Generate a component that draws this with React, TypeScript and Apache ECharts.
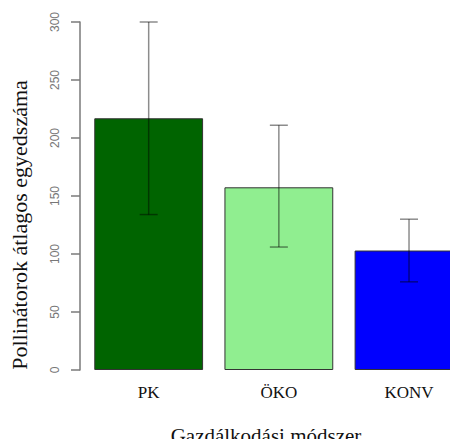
import React, { useEffect, useRef } from "react";
import * as echarts from "echarts";

const categories = ["PK", "ÖKO", "KONV"];
const means = [217, 157.5, 103];
const lowerErr = [134, 106, 76];
const upperErr = [300, 211, 130];
const barColors = ["#006400", "#90EE90", "#0000FF"];
const yTicks = [0, 50, 100, 150, 200, 250, 300];
const yTitle = "Pollinátorok átlagos egyedszáma";
const xTitle = "Gazdálkodási módszer";

export default function App() {
  const ref = useRef<HTMLDivElement>(null);
  useEffect(() => {
    if (!ref.current) return;
    const chart = echarts.init(ref.current, null, { renderer: "svg" });
    const errData = categories.map((c, i) => [i, lowerErr[i], upperErr[i]]);
    chart.setOption({
      animation: false,
      grid: { left: 83.6, right: 5.9, top: 22, bottom: 77, containLabel: false },
      xAxis: {
        type: "category",
        data: categories,
        boundaryGap: true,
        axisLine: { show: false },
        axisTick: { show: false },
        axisLabel: {
          color: "#111",
          fontFamily: "Liberation Serif",
          fontSize: 17,
          margin: 14,
        },
      },
      yAxis: {
        type: "value",
        min: yTicks[0],
        max: yTicks[yTicks.length - 1],
        interval: 50,
        offset: 3.6,
        splitLine: { show: false },
        axisLine: { show: true, lineStyle: { color: "#7a7a7a", width: 1.5 } },
        axisTick: { show: true, length: 9, lineStyle: { color: "#7a7a7a", width: 1.5 } },
        axisLabel: {
          rotate: 90,
          color: "#777",
          fontFamily: "Liberation Sans",
          fontSize: 12,
          margin: 19,
        },
      },
      series: [
        {
          type: "bar",
          data: means.map((v, i) => ({ value: v, itemStyle: { color: barColors[i] } })),
          barCategoryGap: "16.4%",
          itemStyle: { borderColor: "#333", borderWidth: 1 },
        },
        {
          type: "custom",
          data: errData,
          renderItem: (params: any, api: any) => {
            const x = api.value(0);
            const lo = api.coord([x, api.value(1)]);
            const hi = api.coord([x, api.value(2)]);
            const hw = 9;
            const style = { stroke: "rgba(0,0,0,0.45)", lineWidth: 1.5 };
            return {
              type: "group",
              children: [
                { type: "line", shape: { x1: lo[0], y1: lo[1], x2: hi[0], y2: hi[1] }, style },
                { type: "line", shape: { x1: hi[0] - hw, y1: hi[1], x2: hi[0] + hw, y2: hi[1] }, style },
                { type: "line", shape: { x1: lo[0] - hw, y1: lo[1], x2: lo[0] + hw, y2: lo[1] }, style },
              ],
            };
          },
          z: 10,
        },
      ],
      graphic: [
        {
          type: "text",
          x: 19,
          y: 225,
          rotation: Math.PI / 2,
          style: {
            text: yTitle,
            fontFamily: "Liberation Serif",
            fontSize: 22,
            fill: "#111",
            align: "center",
            verticalAlign: "middle",
          },
        },
        {
          type: "text",
          x: 266,
          y: 435.5,
          style: {
            text: xTitle,
            fontFamily: "Liberation Serif",
            fontSize: 21,
            fill: "#111",
            align: "center",
            verticalAlign: "middle",
          },
        },
      ],
    });
    return () => chart.dispose();
  }, []);
  return (
    <div style={{ width: 458, height: 447, margin: -8, overflow: "hidden" }}>
      <div ref={ref} style={{ width: 480, height: 447 }} />
    </div>
  );
}
